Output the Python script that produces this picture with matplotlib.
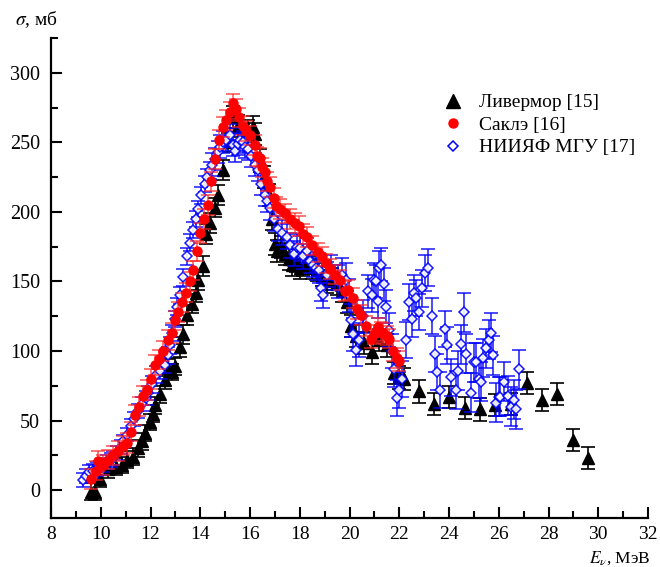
import numpy as np
import matplotlib
matplotlib.use("Agg")
import matplotlib.pyplot as plt
from matplotlib.lines import Line2D
from matplotlib.ticker import MultipleLocator

# ---- data -----------------------------------------------------------------
# Livermore [15]
E_liv = [9.62, 9.75, 9.97, 10.3, 10.6, 10.84, 11.05, 11.3, 11.5, 11.65,
         11.78, 11.98, 12.1, 12.18, 12.38, 12.58, 12.71, 12.85, 12.98, 13.18,
         13.3, 13.45, 13.65, 13.82, 13.92, 14.12, 14.25, 14.41, 14.58, 14.72,
         14.9, 15.1, 15.32, 15.5, 15.7, 15.9, 16.12, 16.19, 16.4, 16.58,
         16.76, 16.9, 17.0, 17.1, 17.25, 17.4, 17.55, 17.7, 17.85, 18.0,
         18.15, 18.3, 18.5, 18.7, 18.9, 19.1, 19.3, 19.5, 19.7, 19.9,
         20.05, 20.25, 20.6, 20.9, 21.2, 21.5, 21.8, 22.0, 22.2, 22.78,
         23.4, 24.0, 24.63, 25.24, 25.86, 26.5, 27.13, 27.75, 28.35, 28.98,
         29.58]
sig_liv = [-1, -1, 8, 15, 17, 18, 22, 24, 30, 35,
           41, 49, 55, 61, 69, 79, 88, 85, 89, 103,
           112, 126, 134, 142, 151, 161, 184, 192, 203, 212,
           230, 250, 268, 262, 255, 258, 261, 256, 237, 225,
           212, 195, 177, 172, 175, 170, 166, 162, 165, 160,
           162, 165, 160, 158, 155, 150, 152, 148, 143, 135,
           118, 111, 106, 99, 108, 104, 84, 81, 80, 71,
           62, 67, 59, 58, 61, 62, 77, 65, 69, 36,
           23]
err_liv = [6, 6, 6, 6, 6, 6, 6, 6, 6, 6,
           6, 6, 6, 6, 6, 6, 6, 6, 6, 7,
           7, 7, 7, 7, 7, 7, 7, 7, 7, 7,
           7, 7, 8, 8, 8, 8, 8, 8, 8, 8,
           8, 8, 8, 8, 8, 8, 8, 8, 8, 8,
           8, 8, 8, 8, 8, 8, 8, 8, 8, 8,
           8, 8, 8, 8, 8, 8, 8, 8, 8, 8,
           8, 8, 8, 8, 8, 8, 8, 8, 8, 8,
           8]

# Saclay [16]
E_sac = [9.6, 9.8, 9.9, 10.1, 10.3, 10.5, 10.7, 10.9, 11.04, 11.2,
         11.37, 11.55, 11.7, 11.85, 12.0, 12.18, 12.35, 12.5, 12.7, 12.85,
         13.0, 13.11, 13.25, 13.42, 13.58, 13.69, 13.85, 14.0, 14.15, 14.3,
         14.45, 14.6, 14.75, 14.92, 15.05, 15.2, 15.32, 15.45, 15.55, 15.7,
         15.85, 16.0, 16.19, 16.3, 16.4, 16.5, 16.6, 16.7, 16.8, 16.95,
         17.06, 17.2, 17.4, 17.6, 17.8, 17.95, 18.13, 18.3, 18.5, 18.74,
         18.9, 19.05, 19.2, 19.4, 19.6, 19.8, 19.94, 20.14, 20.3, 20.48,
         20.65, 20.88, 21.0, 21.14, 21.25, 21.35, 21.5, 21.6, 21.75, 21.9,
         22.0]
sig_sac = [8, 14, 21, 18, 22, 25, 28, 32, 34, 42,
           54, 60, 68, 72, 80, 90, 94, 100, 108, 113,
           122, 128, 135, 142, 150, 158, 172, 185, 195, 205,
           222, 238, 252, 261, 266, 272, 278, 274, 268, 262,
           258, 255, 248, 240, 239, 232, 229, 222, 218, 210,
           204, 202, 199, 195, 192, 190, 184, 182, 176, 171,
           168, 163, 159, 155, 151, 143, 144, 138, 130, 126,
           118, 109, 112, 117, 114, 113, 111, 109, 100, 95,
           93]
err_sac = [7] * 81

# НИИЯФ МГУ [17]
E_msu = [9.3, 9.4, 9.54, 9.7, 9.85, 9.97, 10.1, 10.25, 10.4, 10.5,
         10.65, 10.8, 10.9, 11.05, 11.2, 11.35, 11.5, 11.65, 11.8, 11.9,
         12.05, 12.24, 12.4, 12.58, 12.7, 12.78, 12.88, 12.98, 13.08, 13.18,
         13.3, 13.45, 13.58, 13.72, 13.82, 13.92, 14.05, 14.18, 14.29, 14.39,
         14.49, 14.59, 14.7, 14.8, 14.92, 15.05, 15.19, 15.3, 15.39, 15.5,
         15.6, 15.7, 15.8, 15.92, 16.05, 16.2, 16.33, 16.46, 16.6, 16.7,
         16.8, 16.95, 17.13, 17.3, 17.47, 17.6, 17.75, 17.9, 18.0, 18.15,
         18.3, 18.4, 18.53, 18.65, 18.78, 18.87, 18.95, 19.1, 19.25, 19.4,
         19.55, 19.7, 19.87, 19.97, 20.07, 20.15, 20.28, 20.4, 20.55, 20.74,
         20.9, 21.0, 21.08, 21.15, 21.2, 21.28, 21.4, 21.48, 21.6, 21.7,
         21.8, 21.9, 22.0, 22.1, 22.28, 22.4, 22.5, 22.58, 22.68, 22.78,
         22.9, 23.02, 23.15, 23.3, 23.42, 23.5, 23.63, 23.83, 23.9, 24.1,
         24.3, 24.36, 24.5, 24.6, 24.7, 24.9, 25.0, 25.1, 25.2, 25.3,
         25.36, 25.5, 25.6, 25.7, 25.76, 25.87, 26.0, 26.06, 26.2, 26.37,
         26.5, 26.6, 26.7, 26.8]
sig_msu = [7, 10, 13, 14, 15, 16, 18, 20, 22, 23,
           27, 31, 35, 40, 46, 51, 57, 62, 66, 70,
           76, 83, 86, 90, 97, 104, 113, 123, 132, 140,
           153, 168, 178, 187, 195, 202, 212, 220, 225, 230,
           234, 238, 243, 247, 250, 252, 255, 248, 244, 249,
           252, 250, 247, 245, 240, 234, 230, 220, 212, 208,
           203, 195, 188, 185, 182, 176, 170, 175, 174, 168,
           172, 165, 162, 160, 158, 145, 140, 155, 160, 153,
           150, 155, 151, 140, 122, 112, 101, 108, 125, 143,
           140, 151, 150, 136, 160, 162, 148, 132, 115, 100,
           87, 66, 72, 80, 108, 135, 123, 142, 138, 128,
           145, 156, 160, 125, 98, 85, 72, 116, 104, 81,
           72, 86, 105, 128, 98, 70, 92, 92, 80, 78,
           95, 102, 108, 113, 97, 63, 67, 67, 78, 68,
           60, 65, 58, 87]
err_msu = ([5] * 20 + [6] * 20 + [8] * 20 + [9] * 20 +
           [12] * 20 + [13] * 20 + [14] * 24)

x_ticks = [8, 10, 12, 14, 16, 18, 20, 22, 24, 26, 28, 30, 32]
y_ticks = [0, 50, 100, 150, 200, 250, 300]
labels = ["Ливермор [15]", "Саклэ [16]", "НИИЯФ МГУ [17]"]

# ---- figure -----------------------------------------------------------------
plt.rcParams["font.family"] = ["Liberation Serif", "DejaVu Serif"]
plt.rcParams["mathtext.fontset"] = "stix"

fig = plt.figure(figsize=(6.6, 5.67), dpi=100)
ax = fig.add_axes([51 / 660, 49 / 567, 597 / 660, 480 / 567])

ax.errorbar(E_liv, sig_liv, yerr=err_liv, fmt="^", color="black",
            ms=9, ecolor="black", elinewidth=1.2, capsize=5, capthick=1.2,
            zorder=2)
ax.errorbar(E_msu, sig_msu, yerr=err_msu, fmt="D", color="blue",
            mfc="white", mec="blue", mew=1.1, ms=5.5, ecolor="blue",
            elinewidth=1.1, capsize=5, capthick=1.1, alpha=0.9, zorder=3)
ax.errorbar(E_sac, sig_sac, yerr=err_sac, fmt="o", color="red",
            ms=6.5, ecolor=(1, 0.15, 0.15, 0.8), elinewidth=1.1, capsize=5,
            capthick=1.1, zorder=4)

ax.set_xlim(8, 32)
ax.set_ylim(-20, 325)
ax.set_xticks(x_ticks)
ax.set_yticks(y_ticks)
ax.xaxis.set_minor_locator(MultipleLocator(1))
ax.yaxis.set_minor_locator(MultipleLocator(25))
ax.tick_params(which="both", direction="in", width=1.5, labelsize=14.5)
ax.tick_params(which="major", length=8)
ax.tick_params(which="minor", length=5)
ax.tick_params(axis="x", pad=6, labelsize=14)
ax.tick_params(axis="y", pad=8)
for side in ("top", "right"):
    ax.spines[side].set_visible(False)
for side in ("left", "bottom"):
    ax.spines[side].set_linewidth(1.6)

fig.text(15 / 660, 1 - 20 / 567, r"$\sigma$, мб", fontsize=14,
         ha="left", va="center")
fig.text(650 / 660, 1 - 563 / 567, r"$E_\nu$, МэВ", fontsize=12.5,
         ha="right", va="baseline")

handles = [
    Line2D([], [], ls="none", marker="^", color="black", ms=10),
    Line2D([], [], ls="none", marker="o", color="red", ms=6.5),
    Line2D([], [], ls="none", marker="D", color="blue", mfc="white", ms=5.5,
           mew=1.1),
]
ax.legend(handles, labels, loc="upper left",
          bbox_to_anchor=(383 / 597, (518 - 86) / 480), frameon=False,
          fontsize=14, handlelength=1.2, handletextpad=0.7, labelspacing=0.25,
          borderaxespad=0)

fig.savefig("out.png", dpi=100)
